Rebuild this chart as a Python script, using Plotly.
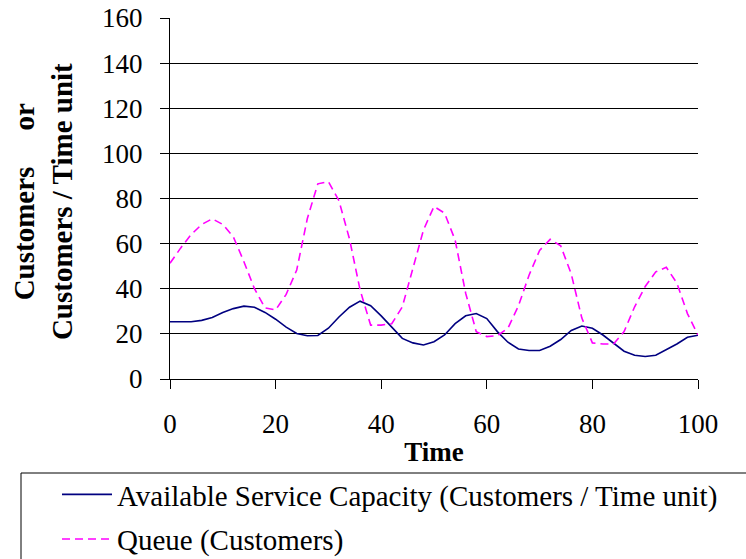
import plotly.graph_objects as go

time = list(range(0, 101, 2))
capacity = [25.4, 25.4, 25.4, 26.0, 27.3, 29.5, 31.2, 32.3, 31.8, 29.5,
            26.5, 23.0, 20.2, 19.2, 19.3, 22.5, 27.5, 31.8, 34.5, 32.5,
            28.0, 23.0, 18.0, 16.0, 15.1, 16.5, 19.5, 24.5, 28.0, 29.0,
            26.8, 21.0, 16.3, 13.3, 12.6, 12.6, 14.5, 17.5, 21.5, 23.5,
            22.5, 19.5, 15.8, 12.3, 10.5, 10.0, 10.5, 13.0, 15.5, 18.5,
            19.4]
queue = [51.3, 58.0, 64.0, 68.5, 71.0, 68.5, 63.0, 52.0, 40.0, 31.5,
         30.6, 37.5, 48.3, 71.0, 86.5, 87.5, 79.0, 62.0, 39.5, 23.9,
         23.9, 24.5, 32.0, 49.0, 66.0, 76.5, 73.5, 61.6, 38.0, 21.0,
         18.8, 19.2, 22.5, 32.5, 46.0, 57.0, 61.9, 59.0, 46.5, 27.0,
         16.0, 15.5, 15.5, 21.0, 32.0, 41.0, 47.5, 49.5, 42.5, 29.0,
         19.5]
x_ticks = [0, 20, 40, 60, 80, 100]
y_ticks = [0, 20, 40, 60, 80, 100, 120, 140, 160]

FONT = "'Liberation Serif', 'Times New Roman', serif"
PW, PH, L, T = 528, 361, 170, 18


def px_x(p):
    return (p - L) / PW


def px_y(p):
    return (T + PH - p) / PH


fig = go.Figure()
fig.add_trace(go.Scatter(
    x=time, y=capacity, mode="lines",
    name="Available Service Capacity (Customers / Time unit)",
    line=dict(color="#000080", width=1.6), legendgroup="a"))
fig.add_trace(go.Scatter(
    x=time, y=queue, mode="lines",
    name="Queue (Customers)",
    line=dict(color="#FF00FF", width=1.6, dash="8px,5px"), legendgroup="b"))

fig.update_layout(
    width=746, height=559,
    margin=dict(l=170, r=48, t=18, b=180, autoexpand=False),
    paper_bgcolor="white", plot_bgcolor="white",
    font=dict(family=FONT, color="black", size=27),
    showlegend=True,
    legend=dict(
        x=px_x(57), y=px_y(469),
        xanchor="left", yanchor="top",
        borderwidth=0, itemwidth=50,
        font=dict(family=FONT, size=29, color="black"),
        tracegroupgap=4, traceorder="grouped",
        bgcolor="rgba(0,0,0,0)",
    ),
    shapes=[dict(
        type="rect", xref="paper", yref="paper",
        x0=px_x(21), x1=px_x(760), y0=px_y(473), y1=px_y(580),
        line=dict(color="black", width=1), fillcolor="rgba(0,0,0,0)",
        layer="below",
    )],
    annotations=[dict(
        text="<b>Customers&nbsp;&nbsp;&nbsp;&nbsp;&nbsp;or<br>Customers / Time unit</b>",
        textangle=-90, xref="paper", yref="paper",
        x=px_x(43), y=0.49, xanchor="center", yanchor="middle",
        showarrow=False, font=dict(family=FONT, size=29, color="black"),
    )],
)

fig.update_xaxes(
    range=[0, 100], tickvals=x_ticks, ticks="outside", ticklen=9,
    tickcolor="black", showline=True, linecolor="black", linewidth=1,
    showgrid=False, zeroline=False, ticklabelstandoff=12,
    tickfont=dict(family=FONT, size=27, color="black"),
    title=dict(text="<b>Time</b>", font=dict(family=FONT, size=27, color="black"),
               standoff=3),
    automargin=False,
)
fig.update_yaxes(
    range=[0, 160], tickvals=y_ticks, ticks="outside", ticklen=9,
    tickcolor="black", showline=True, linecolor="black", linewidth=1,
    showgrid=True, gridcolor="black", gridwidth=1, zeroline=False,
    ticklabelstandoff=12,
    tickfont=dict(family=FONT, size=27, color="black"),
    automargin=False,
)

fig.write_html("out.html")
